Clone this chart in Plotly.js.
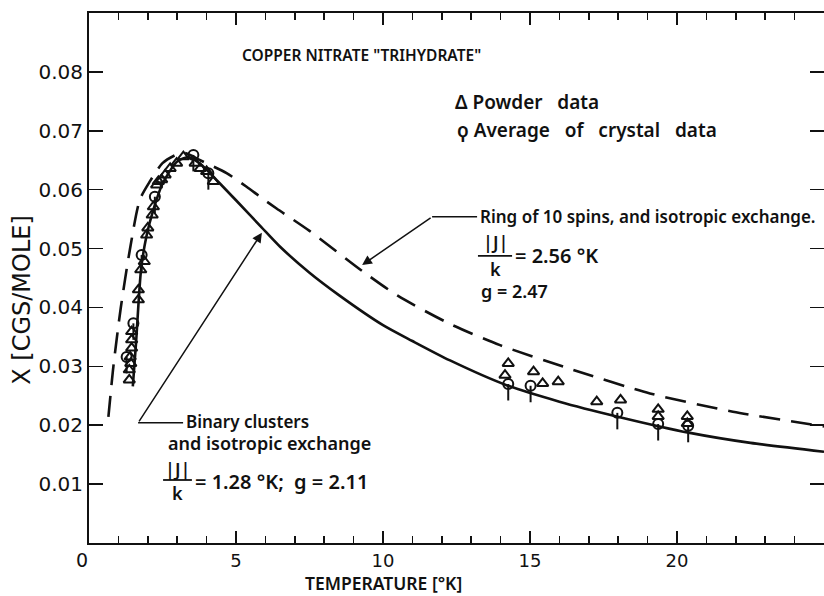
<!DOCTYPE html>
<html>
<head>
<meta charset="utf-8">
<script src="https://cdn.plot.ly/plotly-3.0.1.min.js"></script>
<style>html,body{margin:0;padding:0;background:#fff;}#chart{width:824px;height:596px;}</style>
</head>
<body>
<div id="chart"></div>
<script>
// Binary clusters and isotropic exchange (solid curve)
const tempSolid = [1.49, 1.6, 1.77, 1.95, 2.19, 2.5, 3.0, 3.4, 3.8, 4.23, 5.0, 5.87, 6.5, 7.5, 8.5, 10, 11, 12.28, 14.2, 16, 17.95, 20.44, 22.5, 25];
const chiSolid  = [0.0266, 0.0340, 0.0464, 0.0520, 0.0566, 0.0610, 0.0648, 0.0655, 0.0643, 0.0622, 0.0582, 0.0536, 0.0503, 0.0459, 0.0421, 0.0370, 0.0343, 0.0310, 0.0268, 0.0240, 0.0215, 0.0187, 0.0170, 0.0155];
// Ring of 10 spins (dashed curve)
const tempDash = [0.66, 0.83, 1.08, 1.39, 1.73, 2.07, 2.5, 3.0, 3.3, 3.78, 4.68, 5.36, 5.82, 6.38, 7.5, 9.29, 10.5, 12.28, 13.98, 16.47, 19.08, 21.9, 25];
const chiDash  = [0.0214, 0.0300, 0.0399, 0.0498, 0.0583, 0.0614, 0.0645, 0.0660, 0.0662, 0.0650, 0.0628, 0.0605, 0.0588, 0.0568, 0.0530, 0.0462, 0.0420, 0.0372, 0.0336, 0.0294, 0.0254, 0.0223, 0.0198];
// Powder data (triangles)
const tempPowder = [1.37,1.37,1.42,1.40,1.45,1.45,1.45,1.68,1.68,1.76,1.88,1.96,2.0,2.15,2.19,2.30,2.36,2.47,2.59,2.76,2.98,3.21,3.61,3.78,4.0,4.23,14.15,14.26,15.12,15.43,15.96,17.27,18.08,19.36,19.36,20.35,20.35];
const chiPowder  = [0.0277,0.0294,0.0305,0.0316,0.0331,0.0345,0.0359,0.0413,0.0430,0.0464,0.0478,0.0523,0.0535,0.0557,0.0571,0.0608,0.0614,0.0617,0.0625,0.0636,0.0645,0.0656,0.0645,0.0636,0.0631,0.0614,0.0285,0.0305,0.0291,0.0271,0.0274,0.0240,0.0243,0.0227,0.0215,0.0215,0.0203];
// Average of crystal data (circles)
const tempCrystal = [1.28, 1.51, 1.79, 2.24, 3.55, 4.06, 14.26, 15.02, 17.97, 19.36, 20.38];
const chiCrystal  = [0.0316, 0.0373, 0.0489, 0.0588, 0.0659, 0.0628, 0.0270, 0.0267, 0.0221, 0.0202, 0.0199];
// Axis ticks
const xTickVals = [5, 10, 15, 20];
const xTickText = ['5', '10', '15', '20'];
const yTickVals = [0.01, 0.02, 0.03, 0.04, 0.05, 0.06, 0.07, 0.08];
const yTickText = ['0.01', '0.02', '0.03', '0.04', '0.05', '0.06', '0.07', '0.08'];

const FONT = 'Noto Sans, DejaVu Sans, sans-serif';
const WIDE = 'DejaVu Sans, sans-serif';
const ink = '#111';
const S = '\u00A0';

const traces = [
  {x: tempDash, y: chiDash, mode: 'lines', line: {color: ink, width: 2.6, dash: '21px,11px', shape: 'spline', smoothing: 0.7}, name: 'Ring of 10 spins'},
  {x: tempSolid, y: chiSolid, mode: 'lines', line: {color: ink, width: 2.6, shape: 'spline', smoothing: 0.7}, name: 'Binary clusters'},
  {x: tempPowder, y: chiPowder, mode: 'markers', marker: {symbol: 'triangle-up-open', size: 10, color: ink, line: {width: 2, color: ink}}, name: 'Powder data'},
  {x: tempCrystal, y: chiCrystal, mode: 'markers', marker: {symbol: 'circle-open', size: 10, color: ink, line: {width: 2, color: ink}},
   error_y: {type: 'constant', symmetric: false, value: 0, valueminus: 0.0028, width: 0, thickness: 2, color: ink}, name: 'Average of crystal data'}
];

const fnt = (size, fam) => ({family: fam || FONT, size: size, color: ink, weight: 600});
const wide = (size) => ({family: WIDE, size: size, color: ink, weight: 400});
const txt = (x, y, text, size, opts) => Object.assign({x: x, y: y, xref: 'x', yref: 'y', text: text, showarrow: false, xanchor: 'left', yanchor: 'middle', font: fnt(size)}, opts || {});

const layout = {
  width: 824, height: 596,
  margin: {l: 89, r: 0, t: 13, b: 53},
  paper_bgcolor: '#fff', plot_bgcolor: '#fff',
  showlegend: false,
  font: fnt(16),
  xaxis: {
    range: [0, 25], tickvals: xTickVals, ticktext: xTickText,
    ticks: 'inside', ticklen: 12, tickwidth: 1.6, tickcolor: ink,
    minor: {dtick: 1, ticks: 'inside', ticklen: 7, tickwidth: 1.6, tickcolor: ink},
    showline: true, linecolor: ink, linewidth: 2, mirror: 'ticks',
    showgrid: false, zeroline: false,
    tickfont: wide(18),
    ticklabelstandoff: 0
  },
  yaxis: {
    range: [0, 0.09], tickvals: yTickVals, ticktext: yTickText,
    ticks: 'inside', ticklen: 14, tickwidth: 1.6, tickcolor: ink,
    showline: true, linecolor: ink, linewidth: 2, mirror: 'ticks',
    showgrid: false, zeroline: false,
    tickfont: wide(20)
  },
  shapes: [
    {type: 'line', xref: 'x', yref: 'y', x0: 11.67, y0: 0.0554, x1: 13.2, y1: 0.0554, line: {color: ink, width: 1.5}},
    {type: 'line', xref: 'x', yref: 'y', x0: 13.23, y0: 0.04875, x1: 14.39, y1: 0.04875, line: {color: ink, width: 1.8}},
    {type: 'line', xref: 'x', yref: 'y', x0: 1.67, y0: 0.0204, x1: 3.2, y1: 0.0204, line: {color: ink, width: 1.5}},
    {type: 'line', xref: 'x', yref: 'y', x0: 2.52, y0: 0.0107, x1: 3.5, y1: 0.0107, line: {color: ink, width: 1.8}}
  ],
  annotations: [
    txt(5.14, 0.0829, 'COPPER NITRATE "TRIHYDRATE"', 15.5),
    txt(12.38, 0.0749, 'Δ Powder' + S + S + S + 'data', 19),
    txt(12.45, 0.0701, 'ϙ Average' + S + S + ' of' + S + S + ' crystal' + S + S + ' data', 19),
    txt(13.23, 0.0554, 'Ring of 10 spins, and isotropic exchange.', 17),
    {x: 9.29, y: 0.0472, xref: 'x', yref: 'y', axref: 'x', ayref: 'y', ax: 11.67, ay: 0.0554, text: '', showarrow: true, arrowhead: 2, arrowsize: 1.3, arrowwidth: 1.5, arrowcolor: ink},
    txt(13.81, 0.0511, '|J|', 18, {xanchor: 'center'}),
    txt(13.81, 0.0466, 'k', 18, {xanchor: 'center'}),
    txt(14.42, 0.0489, '= 2.56 °K', 20),
    txt(13.27, 0.0428, 'g = 2.47', 18),
    txt(3.23, 0.0207, 'Binary clusters', 17),
    txt(2.62, 0.0170, 'and isotropic exchange', 18),
    {x: 5.88, y: 0.0527, xref: 'x', yref: 'y', axref: 'x', ayref: 'y', ax: 1.67, ay: 0.0204, text: '', showarrow: true, arrowhead: 2, arrowsize: 1.3, arrowwidth: 1.5, arrowcolor: ink},
    txt(3.0, 0.0125, '|J|', 18, {xanchor: 'center'}),
    txt(3.0, 0.0085, 'k', 18, {xanchor: 'center'}),
    txt(3.54, 0.0105, '= 1.28 °K;' + S + S + 'g = 2.11', 20),
    {x: 0, y: 0, xref: 'x', yref: 'y', text: '0', showarrow: false, xanchor: 'center', yanchor: 'middle', xshift: -7, yshift: -17, font: wide(19)},
    {x: 10, y: 0, xref: 'x', yref: 'paper', text: 'TEMPERATURE [°K]', showarrow: false, xanchor: 'center', yanchor: 'bottom', yshift: -53, borderpad: 0, font: fnt(17.5)},
    {x: 0, y: 0.0413, xref: 'paper', yref: 'y', text: 'X [CGS/MOLE]', showarrow: false, textangle: -90, xanchor: 'center', yanchor: 'middle', xshift: -67, font: wide(24)}
  ]
};

Plotly.newPlot('chart', traces, layout, {displayModeBar: false, staticPlot: true});
</script>
</body>
</html>
